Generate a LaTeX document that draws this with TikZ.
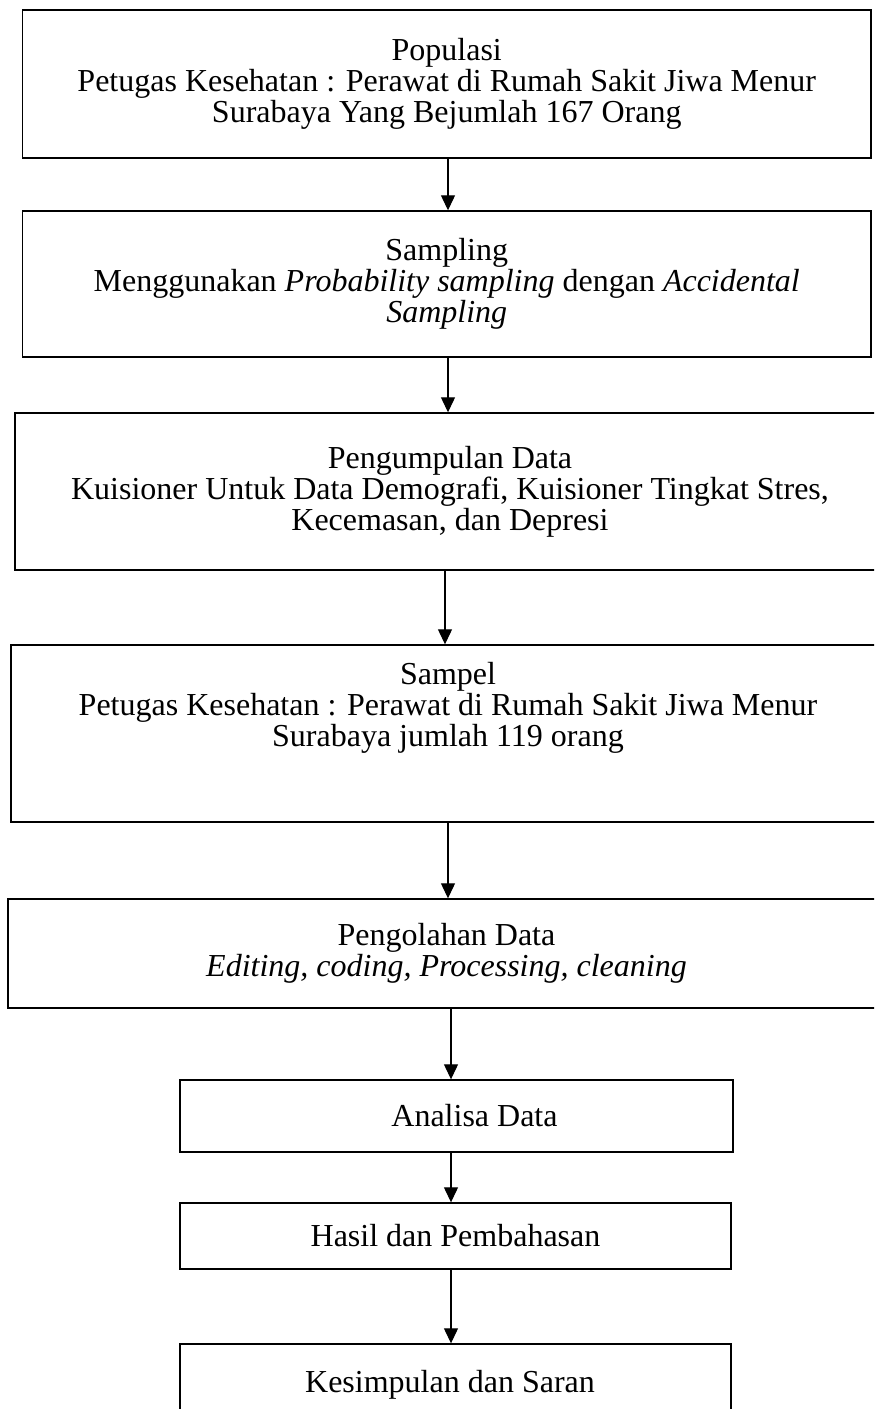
\documentclass[tikz,border=0pt]{standalone}
\usepackage{fontspec}
\setmainfont{Liberation Serif}
\usetikzlibrary{arrows.meta,calc}
\begin{document}
\begin{tikzpicture}[x=0.5pt,y=-0.5pt,
  box/.style={draw,line width=0.7pt,inner sep=0pt,align=center,
    font=\fontsize{16}{15.5}\selectfont},
  txt/.style={inner sep=0pt,align=center,font=\fontsize{16}{15.5}\selectfont},
  arr/.style={line width=0.6pt,-{Triangle[width=7pt,length=7.5pt]}}]
\useasboundingbox (0,0) rectangle (874,1409);
\clip (0,0) rectangle (874,1409);
\coordinate (axA) at (448,0);
\coordinate (axB) at (445,0);
\coordinate (axC) at (451,0);
\node[box,minimum width=424.25pt,minimum height=74pt] (b1) at (446.75,84)
  {Populasi\\Petugas Kesehatan : Perawat di Rumah Sakit Jiwa Menur\\Surabaya Yang Bejumlah 167 Orang};
\node[box,minimum width=424.25pt,minimum height=73pt] (b2) at (446.75,284)
  {Sampling\\Menggunakan \textit{Probability sampling} dengan \textit{Accidental}\\\textit{Sampling}};
\node[box,minimum width=435pt,minimum height=78.5pt] (b3) at (450,491.5)
  {Pengumpulan Data\\Kuisioner Untuk Data Demografi, Kuisioner Tingkat Stres,\\Kecemasan, dan Depresi};
\node[box,minimum width=437pt,minimum height=88.5pt] (b4) at (448,733.5) {};
\node[txt,anchor=north] (t4) at ($(b4.north)+(0,18)$)
  {Sampel\\Petugas Kesehatan : Perawat di Rumah Sakit Jiwa Menur\\Surabaya jumlah 119 orang};
\node[box,minimum width=438.5pt,minimum height=54.5pt] (b5) at (446.5,953.5)
  {Pengolahan Data\\\textit{Editing, coding, Processing, cleaning}};
\node[box,minimum width=276.5pt,minimum height=36pt] (b6) at (456.5,1116) {};
\node[txt] (t6) at ($(b6.center)+(18,0)$) {Analisa Data};
\node[box,minimum width=275.5pt,minimum height=33pt] (b7) at (455.5,1236) {Hasil dan Pembahasan};
\node[box,minimum width=275.5pt,minimum height=60pt] (b8) at (455.5,1404) {};
\node[txt] (t8) at (450,1385) {Kesimpulan dan Saran};
\draw[arr] (b1.south -| axA) -- (b2.north -| axA);
\draw[arr] (b2.south -| axA) -- (b3.north -| axA);
\draw[arr] (b3.south -| axB) -- (b4.north -| axB);
\draw[arr] (b4.south -| axA) -- (b5.north -| axA);
\draw[arr] (b5.south -| axC) -- (b6.north -| axC);
\draw[arr] (b6.south -| axC) -- (b7.north -| axC);
\draw[arr] (b7.south -| axC) -- (b8.north -| axC);
\end{tikzpicture}
\end{document}
